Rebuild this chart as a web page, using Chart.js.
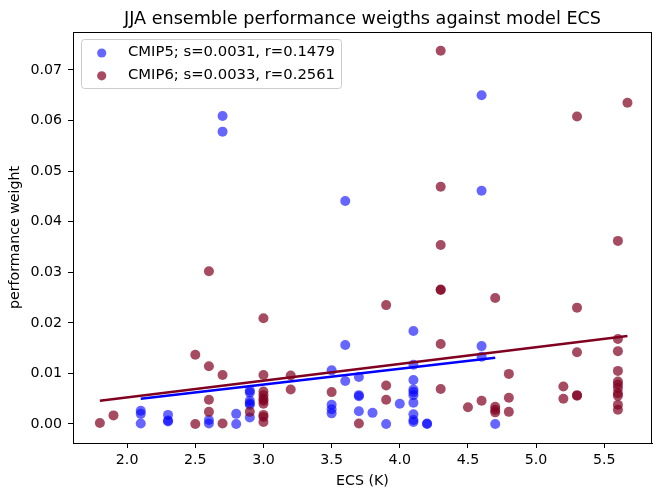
<!DOCTYPE html>
<html>
<head>
<meta charset="utf-8">
<script src="https://cdn.jsdelivr.net/npm/chart.js@4.4.0/dist/chart.umd.min.js"></script>
<style>
  html, body { margin: 0; padding: 0; background: #fff; }
  #wrap { width: 657px; height: 495px; }
</style>
</head>
<body>
<div id="wrap"><canvas id="myChart" width="657" height="495"></canvas></div>
<script>
// ECS (K) per member and performance weight
const cmip5X = [2.1, 2.1, 2.1, 2.3, 2.3, 2.3, 2.6, 2.6, 2.7, 2.7, 2.8, 2.8,
  2.9, 2.9, 2.9, 2.9, 2.9, 2.9, 3.5, 3.5, 3.5, 3.5, 3.6, 3.6, 3.6,
  3.7, 3.7, 3.7, 3.7, 3.8, 3.9, 4.0,
  4.1, 4.1, 4.1, 4.1, 4.1, 4.1, 4.1, 4.1, 4.1, 4.1, 4.2, 4.2,
  4.6, 4.6, 4.6, 4.6, 4.7];
const cmip5Y = [0.0026, 0.0020, 0.0001, 0.0018, 0.0007, 0.0005, 0.0008, 0.0001, 0.0609, 0.0578, 0.0020, 0.0000,
  0.0066, 0.0062, 0.0046, 0.0041, 0.0038, 0.0013, 0.0106, 0.0038, 0.0029, 0.0021, 0.0441, 0.0156, 0.0085,
  0.0093, 0.0057, 0.0055, 0.0025, 0.0022, 0.0000, 0.0040,
  0.0184, 0.0117, 0.0087, 0.0068, 0.0063, 0.0057, 0.0042, 0.0019, 0.0008, 0.0004, 0.0000, 0.0001,
  0.0650, 0.0461, 0.0154, 0.0133, 0.0000];

const cmip6X = [1.8, 1.9, 2.5, 2.5, 2.6, 2.6, 2.6, 2.6, 2.7, 2.7, 2.9,
  3.0, 3.0, 3.0, 3.0, 3.0, 3.0, 3.0, 3.0, 3.0, 3.0, 3.2, 3.2, 3.5, 3.7,
  3.9, 3.9, 3.9, 4.3, 4.3, 4.3, 4.3, 4.3, 4.3, 4.3, 4.5, 4.6,
  4.7, 4.7, 4.7, 4.7, 4.8, 4.8, 4.8, 5.2, 5.2, 5.3, 5.3, 5.3, 5.3, 5.3,
  5.6, 5.6, 5.6, 5.6, 5.6, 5.6, 5.6, 5.6, 5.6, 5.6, 5.6, 5.67];
const cmip6Y = [0.0002, 0.0017, 0.0137, 0.0000, 0.0302, 0.0114, 0.0048, 0.0024, 0.0097, 0.0001, 0.0024,
  0.0209, 0.0097, 0.0064, 0.0057, 0.0050, 0.0046, 0.0040, 0.0018, 0.0014, 0.0004, 0.0096, 0.0068, 0.0063, 0.0001,
  0.0235, 0.0076, 0.0048, 0.0738, 0.0469, 0.0354, 0.0266, 0.0265, 0.0158, 0.0069, 0.0033, 0.0046,
  0.0249, 0.0034, 0.0028, 0.0023, 0.0099, 0.0052, 0.0024, 0.0074, 0.0050, 0.0608, 0.0230, 0.0142, 0.0057, 0.0056,
  0.0362, 0.0168, 0.0144, 0.0105, 0.0084, 0.0078, 0.0071, 0.0061, 0.0056, 0.0038, 0.0028, 0.0635];

// fitted lines (end points as drawn)
const fit5X = [2.1, 4.7];
const fit5Y = [0.0050, 0.0131];
const fit6X = [1.8, 5.67];
const fit6Y = [0.0046, 0.0174];

const xTicks = [2.0, 2.5, 3.0, 3.5, 4.0, 4.5, 5.0, 5.5];
const yTicks = [0.00, 0.01, 0.02, 0.03, 0.04, 0.05, 0.06, 0.07];

const labels = ['CMIP5; s=0.0031, r=0.1479', 'CMIP6; s=0.0033, r=0.2561'];
const titulo = 'JJA ensemble performance weigths against model ECS';

const azul = 'rgba(0,0,255,0.6)';
const granate = 'rgba(128,0,32,0.7)';
const FONT = "'DejaVu Sans', sans-serif";

function pares(xs, ys) {
  return xs.map((x, i) => ({x: x, y: ys[i]}));
}

// title, frame and legend drawn by hand like matplotlib
const extras = {
  id: 'extras',
  afterDraw(chart) {
    const ctx = chart.ctx;
    const a = chart.chartArea;
    ctx.save();
    ctx.strokeStyle = '#000';
    ctx.lineWidth = 1;
    ctx.strokeRect(Math.round(a.left) + 0.5, Math.round(a.top) + 0.5,
      Math.round(a.right - a.left) - 1, Math.round(a.bottom - a.top));

    ctx.fillStyle = '#000';
    ctx.font = '17.6px ' + FONT;
    ctx.textAlign = 'center';
    ctx.textBaseline = 'alphabetic';
    ctx.fillText(titulo, (a.left + a.right) / 2, 24);

    // legend
    const lx = 81.5, ly = 39.5, lw = 260, lh = 49, r = 3;
    ctx.beginPath();
    ctx.moveTo(lx + r, ly);
    ctx.arcTo(lx + lw, ly, lx + lw, ly + lh, r);
    ctx.arcTo(lx + lw, ly + lh, lx, ly + lh, r);
    ctx.arcTo(lx, ly + lh, lx, ly, r);
    ctx.arcTo(lx, ly, lx + lw, ly, r);
    ctx.closePath();
    ctx.fillStyle = 'rgba(255,255,255,0.8)';
    ctx.fill();
    ctx.strokeStyle = '#cccccc';
    ctx.stroke();

    const cols = [azul, granate];
    ctx.font = '14.8px ' + FONT;
    ctx.textAlign = 'left';
    ctx.textBaseline = 'middle';
    labels.forEach((t, i) => {
      const yy = 52.5 + i * 22.8;
      ctx.beginPath();
      ctx.arc(101.7, yy + 0.5, 4.6, 0, Math.PI * 2);
      ctx.fillStyle = cols[i];
      ctx.fill();
      ctx.fillStyle = '#000';
      ctx.fillText(t, 128, yy);
    });
    ctx.restore();
  }
};

const ctx = document.getElementById('myChart').getContext('2d');
const myChart = new Chart(ctx, {
  type: 'scatter',
  data: {
    datasets: [
      {type: 'line', data: pares(fit6X, fit6Y), borderColor: '#800020', borderWidth: 2.5,
        pointRadius: 0, fill: false},
      {type: 'line', data: pares(fit5X, fit5Y), borderColor: '#0000ff', borderWidth: 2.5,
        pointRadius: 0, fill: false},
      {label: labels[1], data: pares(cmip6X, cmip6Y), backgroundColor: granate,
        borderWidth: 0, pointRadius: 5},
      {label: labels[0], data: pares(cmip5X, cmip5Y), backgroundColor: azul,
        borderWidth: 0, pointRadius: 5}
    ]
  },
  options: {
    responsive: false,
    animation: false,
    events: [],
    layout: {padding: {top: 32, right: 1, left: 0, bottom: 0}},
    plugins: {
      legend: {display: false},
      tooltip: {enabled: false},
      title: {display: false}
    },
    scales: {
      x: {
        type: 'linear',
        min: 1.603,
        max: 5.85,
        afterFit: s => { s.height = 52; },
        afterBuildTicks: s => { s.ticks = xTicks.map(v => ({value: v})); },
        grid: {drawOnChartArea: false, drawTicks: true, tickLength: 5, color: '#000'},
        border: {display: true, color: '#000'},
        ticks: {
          color: '#000', padding: 4, maxRotation: 0,
          font: {family: FONT, size: 14.2},
          callback: v => v.toFixed(1)
        },
        title: {display: true, text: 'ECS (K)', color: '#000',
          font: {family: FONT, size: 14.2}, padding: {top: 0, bottom: 5}}
      },
      y: {
        type: 'linear',
        min: -0.00376,
        max: 0.0775,
        afterFit: s => { s.width = 73; },
        afterBuildTicks: s => { s.ticks = yTicks.map(v => ({value: v})); },
        grid: {drawOnChartArea: false, drawTicks: true, tickLength: 5, color: '#000'},
        border: {display: true, color: '#000'},
        ticks: {
          color: '#000', padding: 6,
          font: {family: FONT, size: 14.2},
          callback: v => v.toFixed(2)
        },
        title: {display: true, text: 'performance weight', color: '#000',
          font: {family: FONT, size: 14.2}, padding: {top: 7, bottom: 0}}
      }
    }
  },
  plugins: [extras]
});
</script>
</body>
</html>
